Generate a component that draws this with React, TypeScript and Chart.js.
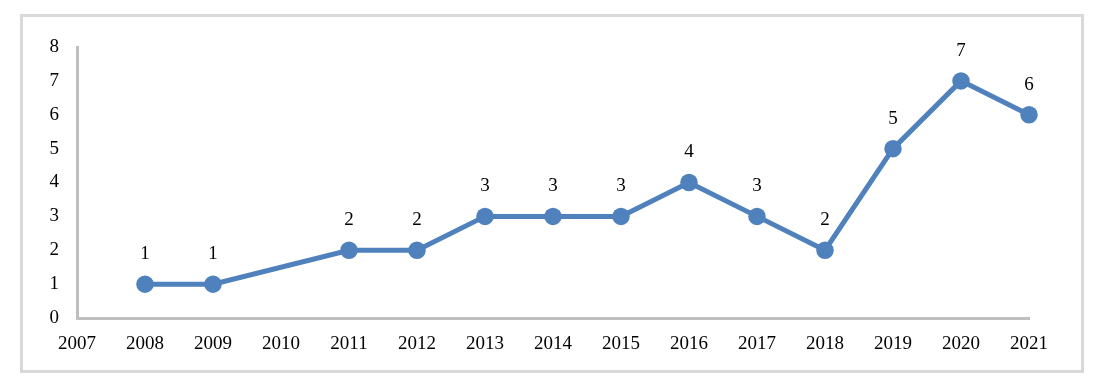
import React, { useEffect, useRef } from "react";
import { Chart, registerables } from "chart.js";

Chart.register(...registerables);

const years = [2008, 2009, 2011, 2012, 2013, 2014, 2015, 2016, 2017, 2018, 2019, 2020, 2021];
const counts = [1, 1, 2, 2, 3, 3, 3, 4, 3, 2, 5, 7, 6];
const xMin = 2007;
const xMax = 2021;
const yMin = 0;
const yMax = 8;

const FONT = "'Liberation Serif', serif";
const FSIZE = 19;

const labelPlugin = {
  id: "pointLabels",
  afterDatasetsDraw(chart: any) {
    const ctx = chart.ctx;
    const meta = chart.getDatasetMeta(0);
    ctx.save();
    ctx.font = `${FSIZE}px ${FONT}`;
    ctx.fillStyle = "#000";
    ctx.textAlign = "center";
    ctx.textBaseline = "middle";
    meta.data.forEach((el: any, i: number) => {
      ctx.fillText(String(counts[i]), el.x, el.y - 30);
    });
    ctx.restore();
  },
};

export default function App() {
  const ref = useRef<HTMLCanvasElement>(null);
  useEffect(() => {
    if (!ref.current) return;
    const chart = new Chart(ref.current, {
      type: "line",
      data: {
        datasets: [
          {
            data: years.map((y, i) => ({ x: y, y: counts[i] })),
            borderColor: "#4f81bd",
            backgroundColor: "#4f81bd",
            borderWidth: 5,
            pointRadius: 8.75,
            pointBorderWidth: 0,
            pointBackgroundColor: "#4f81bd",
            tension: 0,
            clip: false,
          },
        ],
      },
      options: {
        animation: false,
        responsive: false,
        maintainAspectRatio: false,
        layout: { padding: { top: 47, right: 69, bottom: 0, left: 0 } },
        plugins: { legend: { display: false }, tooltip: { enabled: false } },
        scales: {
          x: {
            type: "linear",
            min: xMin,
            max: xMax,
            afterFit: (s: any) => {
              s.height = 58;
            },
            grid: { display: true, color: "transparent", drawTicks: false },
            border: { display: true, color: "#bfbfbf", width: 3 },
            ticks: {
              stepSize: 1,
              padding: 15,
              color: "#000",
              font: { family: FONT, size: FSIZE },
              callback: (v: any) => String(v),
              maxRotation: 0,
              autoSkip: false,
            },
          },
          y: {
            min: yMin,
            max: yMax,
            afterFit: (s: any) => {
              s.width = 77;
            },
            grid: { display: true, color: "transparent", drawTicks: false },
            border: { display: true, color: "#bfbfbf", width: 3 },
            ticks: {
              stepSize: 1,
              padding: 18,
              color: "#000",
              font: { family: FONT, size: FSIZE },
            },
          },
        },
      },
      plugins: [labelPlugin],
    });
    return () => chart.destroy();
  }, []);

  return (
    <div style={{ position: "absolute", left: 0, top: 0, width: 1098, height: 376, background: "#fff" }}>
      <div
        style={{
          position: "absolute",
          left: 20,
          top: 14,
          width: 1064,
          height: 359,
          border: "3px solid #d9d9d9",
          boxSizing: "border-box",
        }}
      />
      <canvas
        ref={ref}
        width={1098}
        height={376}
        style={{ position: "absolute", left: 0, top: 0, width: 1098, height: 376 }}
      />
    </div>
  );
}
